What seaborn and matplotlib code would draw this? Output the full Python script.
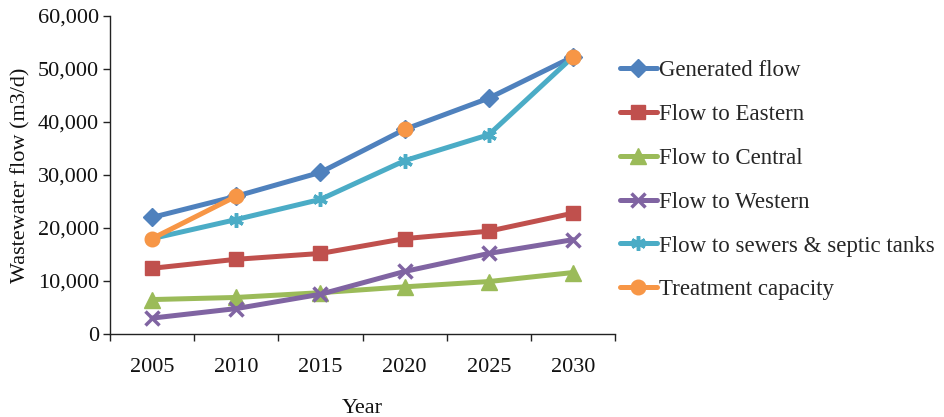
import numpy as np
import pandas as pd
import matplotlib
matplotlib.use("Agg")
import matplotlib.pyplot as plt
from matplotlib.ticker import FuncFormatter, FixedLocator
import seaborn as sns

years = ["2005", "2010", "2015", "2020", "2025", "2030"]
generated_flow = [22000, 26000, 30500, 38600, 44500, 52300]
flow_eastern = [12400, 14100, 15200, 18000, 19400, 22800]
flow_central = [6500, 6900, 7800, 8900, 9900, 11600]
flow_western = [3000, 4800, 7500, 11800, 15200, 17800]
flow_sewers = [18000, 21600, 25400, 32700, 37600, 52300]
treatment_capacity = [18000, 26000, np.nan, 38600, np.nan, 52300]

series = [
    ("Generated flow", generated_flow, "#4F81BD", "D", 9.0),
    ("Flow to Eastern", flow_eastern, "#C0504D", "s", 10.0),
    ("Flow to Central", flow_central, "#9BBB59", "^", 11.0),
    ("Flow to Western", flow_western, "#8064A2", "x", 9.5),
    ("Flow to sewers & septic tanks", flow_sewers, "#4BACC6", (6, 2, 0), 10.5),
    ("Treatment capacity", treatment_capacity, "#F79646", "o", 10.5),
]

sns.set_theme(style="white")
plt.rcParams["font.family"] = ["Liberation Serif", "DejaVu Serif"]

FS = 16

fig = plt.figure(figsize=(9.45, 4.17), dpi=100)
ax = fig.add_axes([0.1164, 0.199, 0.5344, 0.7626])

pos = np.arange(len(years))
handles = []
for name, vals, color, mk, ms in series:
    mew = 2.5 if mk in ("x", (6, 2, 0)) else 1
    df = pd.DataFrame({"x": pos, "y": vals})
    # split into contiguous runs so missing years leave a gap
    run_id = df["y"].isna().cumsum()
    valid = df.dropna()
    for _, seg in valid.groupby(run_id[valid.index]):
        sns.lineplot(data=seg, x="x", y="y", ax=ax, color=color, lw=3.6,
                     marker=mk, markersize=ms, markeredgewidth=mew,
                     markeredgecolor=color, markerfacecolor=color,
                     solid_capstyle="round", legend=False)
    handles.append(plt.Line2D([], [], color=color, lw=3.6, marker=mk, markersize=ms,
                              markeredgewidth=mew, markeredgecolor=color,
                              markerfacecolor=color, solid_capstyle="round"))

ax.set_xlim(-0.5, len(years) - 0.5)
ax.set_ylim(0, 60000)
ax.set_yticks(np.arange(0, 60001, 10000))
ax.yaxis.set_major_formatter(FuncFormatter(lambda v, p: f"{int(v):,}"))
ax.set_xticks(pos)
ax.set_xticklabels(years)
ax.xaxis.set_minor_locator(FixedLocator(np.arange(-0.5, len(years), 1.0)))

for s in ("top", "right"):
    ax.spines[s].set_visible(False)
for s in ("left", "bottom"):
    ax.spines[s].set_color("#222222")
    ax.spines[s].set_linewidth(1.0)

ax.tick_params(axis="y", which="major", direction="out", length=5, width=1,
               color="#222222", labelsize=FS, labelcolor="#111111", pad=3, left=True)
ax.tick_params(axis="x", which="major", length=0, labelsize=FS, labelcolor="#111111", pad=17)
ax.tick_params(axis="x", which="minor", direction="out", length=5, width=1,
               color="#222222", bottom=True)
ax.grid(False)

ax.set_xlabel("Year", fontsize=FS, color="#111111", labelpad=16)
ax.set_ylabel("Wastewater flow (m3/d)", fontsize=FS, color="#111111", labelpad=5)

fig.legend(handles, [s[0] for s in series], loc="upper left",
           bbox_to_anchor=(0.656, 0.857), frameon=False, fontsize=16.5,
           handlelength=1.62, handletextpad=0.1, labelspacing=1.0,
           borderaxespad=0, borderpad=0, numpoints=1)

fig.savefig("out.png", dpi=100)
